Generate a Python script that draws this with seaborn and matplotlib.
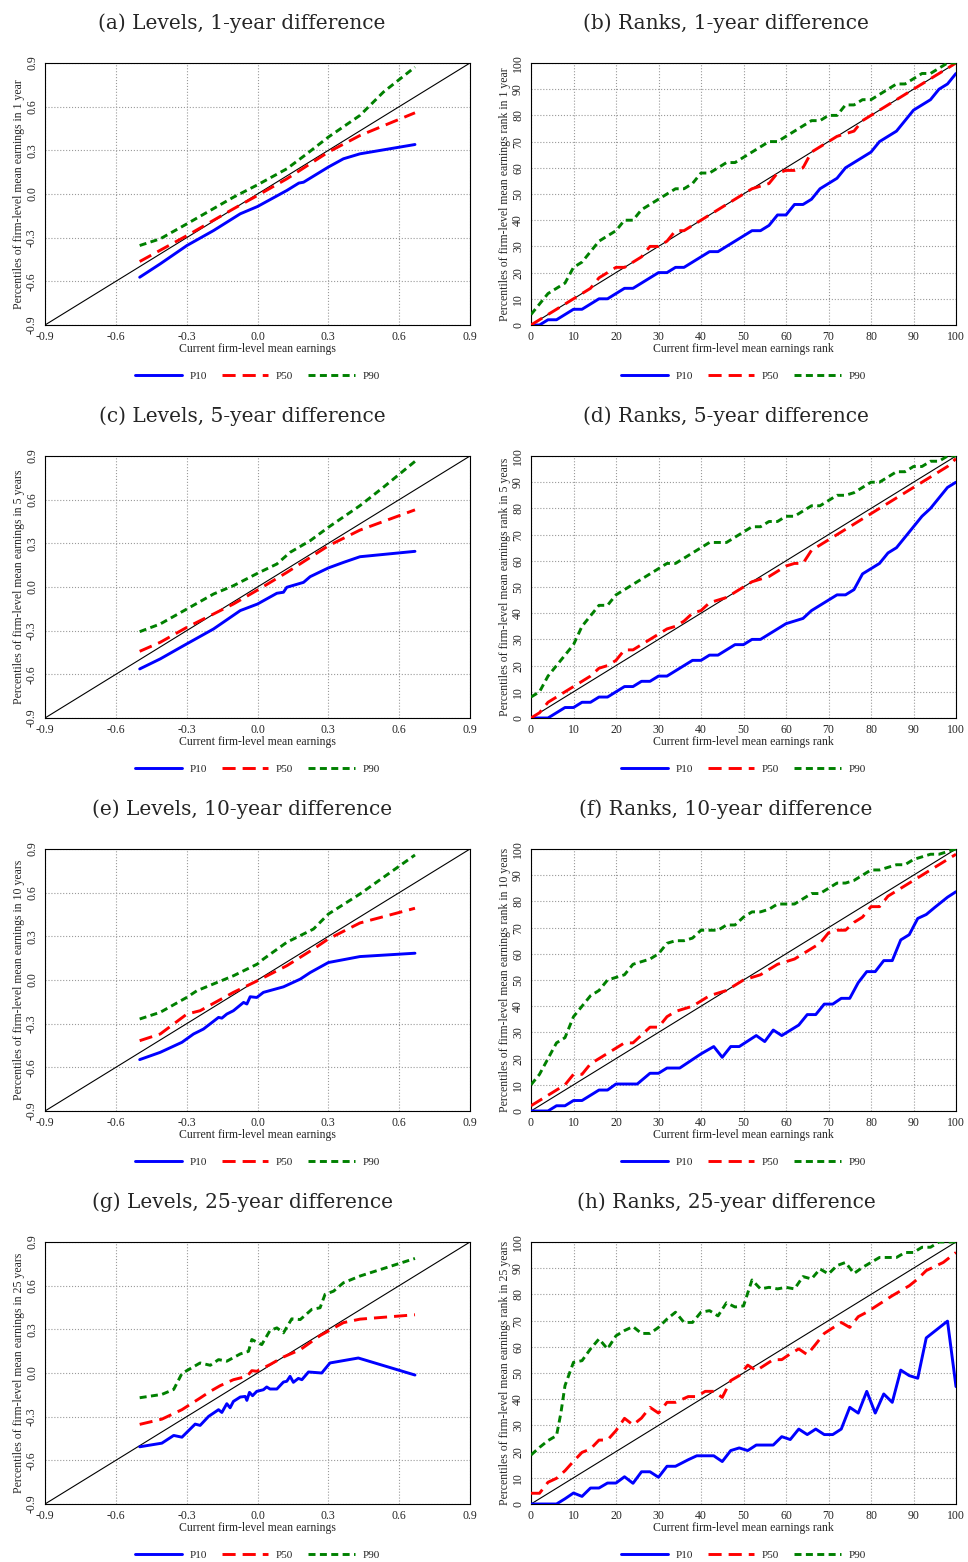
import pandas as pd
import matplotlib
matplotlib.use('Agg')
import matplotlib.pyplot as plt
from matplotlib.lines import Line2D
import seaborn as sns

# ---- data ----
level_ticks = [-0.9, -0.6, -0.3, 0.0, 0.3, 0.6, 0.9]
rank_ticks = [0, 10, 20, 30, 40, 50, 60, 70, 80, 90, 100]
rank_x = list(range(0, 101, 2))

# (a) levels, 1 year
a_p10_x = [-0.499, -0.412, -0.299, -0.186, -0.073, 0.0, 0.124, 0.175, 0.195, 0.300, 0.364, 0.434, 0.667]
a_p10_y = [-0.572, -0.480, -0.354, -0.251, -0.136, -0.086, 0.024, 0.075, 0.081, 0.185, 0.242, 0.276, 0.340]
a_p50_x = [-0.499, -0.299, -0.102, 0.0, 0.124, 0.300, 0.434, 0.667]
a_p50_y = [-0.464, -0.286, -0.102, -0.010, 0.104, 0.288, 0.402, 0.558]
a_p90_x = [-0.499, -0.412, -0.299, -0.102, 0.0, 0.124, 0.209, 0.300, 0.434, 0.533, 0.667]
a_p90_y = [-0.354, -0.308, -0.205, -0.022, 0.063, 0.173, 0.276, 0.391, 0.540, 0.700, 0.872]

# (c) levels, 5 years
c_p10_x = [-0.499, -0.412, -0.313, -0.186, -0.073, 0.0, 0.082, 0.110, 0.124, 0.195, 0.223, 0.300, 0.364, 0.434, 0.667]
c_p10_y = [-0.563, -0.494, -0.403, -0.288, -0.162, -0.117, -0.043, -0.036, -0.002, 0.032, 0.071, 0.131, 0.169, 0.208, 0.245]
c_p50_x = [-0.499, -0.412, -0.299, -0.102, 0.0, 0.124, 0.300, 0.434, 0.667]
c_p50_y = [-0.442, -0.380, -0.277, -0.117, -0.021, 0.100, 0.283, 0.391, 0.530]
c_p90_x = [-0.499, -0.412, -0.299, -0.186, -0.102, 0.0, 0.082, 0.138, 0.223, 0.300, 0.434, 0.533, 0.667]
c_p90_y = [-0.307, -0.254, -0.151, -0.048, 0.009, 0.094, 0.158, 0.238, 0.318, 0.410, 0.559, 0.685, 0.863]

# (e) levels, 10 years
e_p10_x = [-0.499, -0.412, -0.320, -0.271, -0.229, -0.165, -0.151, -0.130, -0.102, -0.059,
           -0.045, -0.031, -0.003, 0.025, 0.110, 0.181, 0.223, 0.300, 0.434, 0.667]
e_p10_y = [-0.547, -0.497, -0.428, -0.371, -0.337, -0.257, -0.262, -0.234, -0.211, -0.154,
           -0.165, -0.115, -0.120, -0.085, -0.047, 0.006, 0.051, 0.120, 0.161, 0.184]
e_p50_x = [-0.499, -0.412, -0.299, -0.243, -0.102, 0.0, 0.124, 0.237, 0.300, 0.434, 0.667]
e_p50_y = [-0.417, -0.371, -0.234, -0.211, -0.085, -0.005, 0.098, 0.213, 0.282, 0.392, 0.493]
e_p90_x = [-0.499, -0.412, -0.299, -0.257, -0.102, 0.0, 0.025, 0.124, 0.237, 0.300, 0.434, 0.667]
e_p90_y = [-0.268, -0.222, -0.119, -0.074, 0.029, 0.110, 0.144, 0.259, 0.350, 0.453, 0.591, 0.859]

# (g) levels, 25 years
g_p10_x = [-0.499, -0.405, -0.355, -0.320, -0.264, -0.243, -0.207, -0.165, -0.151, -0.130,
           -0.116, -0.102, -0.073, -0.052, -0.045, -0.034, -0.021, -0.003, 0.025, 0.039,
           0.053, 0.082, 0.110, 0.124, 0.138, 0.152, 0.173, 0.188, 0.216, 0.272,
           0.307, 0.427, 0.667]
g_p10_y = [-0.507, -0.482, -0.429, -0.441, -0.351, -0.360, -0.298, -0.252, -0.271, -0.211,
           -0.239, -0.195, -0.165, -0.161, -0.188, -0.133, -0.156, -0.126, -0.115, -0.096,
           -0.110, -0.110, -0.062, -0.057, -0.023, -0.064, -0.037, -0.046, 0.007, 0.000,
           0.069, 0.103, -0.014]
g_p50_x = [-0.499, -0.405, -0.320, -0.243, -0.200, -0.158, -0.102, -0.045, -0.024, -0.003,
           0.053, 0.110, 0.181, 0.265, 0.364, 0.434, 0.667]
g_p50_y = [-0.353, -0.317, -0.252, -0.172, -0.126, -0.087, -0.046, -0.023, 0.016, 0.012,
           0.058, 0.110, 0.160, 0.257, 0.346, 0.370, 0.400]
g_p90_x = [-0.499, -0.405, -0.355, -0.320, -0.243, -0.200, -0.165, -0.130, -0.073, -0.038,
           -0.024, 0.018, 0.053, 0.082, 0.110, 0.145, 0.181, 0.230, 0.265, 0.286,
           0.322, 0.364, 0.434, 0.667]
g_p90_y = [-0.170, -0.147, -0.113, -0.003, 0.069, 0.053, 0.092, 0.081, 0.131, 0.149,
           0.230, 0.195, 0.292, 0.310, 0.276, 0.372, 0.367, 0.437, 0.448, 0.540,
           0.562, 0.620, 0.666, 0.787]

# (b) ranks, 1 year  (x = rank_x)
b_p10 = [0, 0, 2, 2, 4, 6, 6, 8, 10, 10, 12, 14, 14, 16, 18, 20, 20, 22, 22, 24,
         26, 28, 28, 30, 32, 34, 36, 36, 38, 42, 42, 46, 46, 48, 52, 54, 56, 60, 62, 64,
         66, 70, 72, 74, 78, 82, 84, 86, 90, 92, 96]
b_p50 = [0, 2, 4, 6, 8, 10, 12, 14, 18, 20, 22, 22, 24, 26, 30, 30, 32, 36, 36, 38,
         40, 42, 44, 46, 48, 50, 52, 53, 54, 58, 59, 59, 60, 66, 68, 70, 72, 73, 74, 78,
         80, 82, 84, 86, 88, 90, 92, 94, 96, 98, 100]
b_p90 = [4, 8, 12, 14, 16, 22, 24, 28, 32, 34, 36, 40, 40, 44, 46, 48, 50, 52, 52, 54,
         58, 58, 60, 62, 62, 64, 66, 68, 70, 70, 72, 74, 76, 78, 78, 80, 80, 84, 84, 86,
         86, 88, 90, 92, 92, 94, 96, 96, 98, 100, 100]

# (d) ranks, 5 years  (x = rank_x)
d_p10 = [0, 0, 0, 2, 4, 4, 6, 6, 8, 8, 10, 12, 12, 14, 14, 16, 16, 18, 20, 22,
         22, 24, 24, 26, 28, 28, 30, 30, 32, 34, 36, 37, 38, 41, 43, 45, 47, 47, 49, 55,
         57, 59, 63, 65, 69, 73, 77, 80, 84, 88, 90]
d_p50 = [0, 2, 6, 8, 10, 12, 14, 16, 19, 20, 22, 26, 26, 28, 30, 32, 34, 35, 37, 40,
         41, 44, 45, 46, 48, 50, 52, 53, 54, 56, 58, 59, 59, 64, 66, 68, 70, 72, 74, 76,
         78, 80, 82, 84, 86, 88, 90, 92, 94, 96, 99]
d_p90 = [8, 10, 16, 20, 24, 28, 35, 39, 43, 43, 47, 49, 51, 53, 55, 57, 59, 59, 61, 63,
         65, 67, 67, 67, 69, 71, 73, 73, 75, 75, 77, 77, 79, 81, 81, 83, 85, 85, 86, 88,
         90, 90, 92, 94, 94, 96, 96, 98, 98, 100, 100]

# (f) ranks, 10 years
f_p10_x = [0, 2, 4, 6, 8, 10, 12, 14, 16, 18, 20, 25, 28, 30, 32, 35, 40, 43, 45, 47,
           49, 53, 55, 57, 59, 63, 65, 67, 69, 71, 73, 75, 77, 79, 81, 83, 85, 87, 89, 91,
           93, 95, 98, 100]
f_p10_y = [0, 0, 0, 2, 2, 4, 4, 6, 8, 8, 10.3, 10.3, 14.4, 14.4, 16.4, 16.4, 21.8, 24.6, 20.5, 24.6,
           24.6, 28.8, 26.5, 30.9, 28.8, 32.8, 36.8, 36.8, 40.8, 40.8, 43, 43, 49, 53.2, 53.2, 57.4, 57.4, 65.3, 67.3, 73.5,
           75, 77.7, 81.6, 83.7]
f_p50 = [2, 4, 6, 8, 10, 14, 14, 18, 20, 22, 24, 26, 26, 29, 32, 32, 36, 38, 39, 40,
         42, 44, 45, 46, 48, 50, 51, 52, 54, 56, 57, 58, 60, 62, 64, 68, 69, 69, 72, 74,
         78, 78, 82, 84, 86, 88, 90, 92, 94, 96, 98]
f_p90 = [10, 14, 20, 26, 28, 36, 40, 44, 46, 50, 51, 52, 56, 57, 58, 60, 64, 65, 65, 66,
         69, 69, 69, 71, 71, 74, 76, 76, 77, 79, 79, 79, 81, 83, 83, 85, 87, 87, 88, 90,
         92, 92, 93, 94, 94, 96, 97, 98, 98, 99, 100]

# (h) ranks, 25 years
h_p10_x = [0, 6, 8, 10, 12, 14, 16, 18, 20, 22, 24, 26, 28, 30, 32, 34, 37, 39, 43, 45,
           47, 49, 51, 53, 57, 59, 61, 63, 65, 67, 69, 71, 73, 75, 77, 79, 81, 83, 85, 87,
           89, 91, 93, 98, 100]
h_p10_y = [0, 0, 2, 4.2, 2.9, 6.1, 6.1, 8, 8, 10.4, 7.9, 12.3, 12.3, 10.2, 14.4, 14.4, 16.9, 18.4, 18.4, 16.2,
           20.4, 21.4, 20.4, 22.5, 22.5, 25.7, 24.6, 28.6, 26.5, 28.6, 26.5, 26.5, 28.6, 36.9, 34.7, 43, 34.7, 42, 38.8, 51.1,
           49, 48, 63.4, 69.8, 44.8]
h_p50_x = [0, 2, 4, 6, 8, 10, 12, 14, 16, 18, 20, 22, 24, 26, 28, 30, 32, 34, 37, 39,
           41, 43, 45, 47, 49, 51, 53, 55, 57, 59, 61, 63, 65, 67, 69, 71, 73, 75, 77, 79,
           81, 83, 85, 87, 89, 91, 93, 97, 100]
h_p50_y = [4.1, 4.1, 8.3, 9.8, 12.7, 16.3, 19.7, 21, 24.4, 24.4, 28, 32.7, 30.2, 32.8, 36.9, 34.7, 38.8, 38.8, 41, 41,
           43, 43, 40.7, 47.1, 49, 53, 50.9, 53, 55.1, 55.1, 57.3, 59.2, 57, 61, 65.1, 67.2, 69.3, 67.4, 71.5, 73.2,
           75.3, 77.4, 79.5, 81.4, 83.3, 85.9, 89.1, 92.2, 96]
h_p90_x = [0, 2, 4, 6, 7, 8, 10, 12, 14, 16, 18, 20, 22, 24, 26, 28, 30, 32, 34, 36,
           38, 40, 42, 44, 46, 48, 50, 52, 54, 56, 58, 60, 62, 64, 66, 68, 70, 72, 74, 76,
           78, 80, 82, 84, 86, 88, 90, 92, 94, 96, 100]
h_p90_y = [18.7, 21.6, 24.2, 26.1, 34.4, 45.2, 54.1, 54.7, 59.2, 63, 59.2, 64.2, 66.2, 67.7, 65.1, 65.1, 67.4, 70.6, 73.2, 69.3,
           69.3, 73.2, 73.8, 71.8, 76.8, 75.2, 75.6, 85.5, 82.1, 82.7, 82.1, 82.7, 82.1, 86.8, 85.9, 89.7, 87.8, 91, 92.2, 88,
           90.3, 92.2, 94.1, 94.1, 94.1, 96, 96, 98, 98, 100, 100]

titles = ['(a) Levels, 1-year difference', '(b) Ranks, 1-year difference',
          '(c) Levels, 5-year difference', '(d) Ranks, 5-year difference',
          '(e) Levels, 10-year difference', '(f) Ranks, 10-year difference',
          '(g) Levels, 25-year difference', '(h) Ranks, 25-year difference']
horizons = ['1 year', '5 years', '10 years', '25 years']

panels = [
    {'P10': (a_p10_x, a_p10_y), 'P50': (a_p50_x, a_p50_y), 'P90': (a_p90_x, a_p90_y)},
    {'P10': (rank_x, b_p10), 'P50': (rank_x, b_p50), 'P90': (rank_x, b_p90)},
    {'P10': (c_p10_x, c_p10_y), 'P50': (c_p50_x, c_p50_y), 'P90': (c_p90_x, c_p90_y)},
    {'P10': (rank_x, d_p10), 'P50': (rank_x, d_p50), 'P90': (rank_x, d_p90)},
    {'P10': (e_p10_x, e_p10_y), 'P50': (e_p50_x, e_p50_y), 'P90': (e_p90_x, e_p90_y)},
    {'P10': (f_p10_x, f_p10_y), 'P50': (rank_x, f_p50), 'P90': (rank_x, f_p90)},
    {'P10': (g_p10_x, g_p10_y), 'P50': (g_p50_x, g_p50_y), 'P90': (g_p90_x, g_p90_y)},
    {'P10': (h_p10_x, h_p10_y), 'P50': (h_p50_x, h_p50_y), 'P90': (h_p90_x, h_p90_y)},
]

# ---- style ----
sns.set_style('white')
plt.rcParams['font.family'] = ['Liberation Serif', 'DejaVu Serif']
plt.rcParams['axes.unicode_minus'] = False

colors = {'P10': '#0000ff', 'P50': '#ff0000', 'P90': '#008000'}
dashes = {'P10': '', 'P50': (4.5, 2.4), 'P90': (2.4, 1.5)}
LW = 2.1
W, H = 968, 1562

fig = plt.figure(figsize=(W / 100, H / 100), dpi=100)

col_left = [45, 531]
col_width = 425
row_top = [63, 456, 849, 1242]
ax_h = 262

for i, series in enumerate(panels):
    row, col = divmod(i, 2)
    left = col_left[col] / W
    bottom = 1 - (row_top[row] + ax_h) / H
    ax = fig.add_axes([left, bottom, col_width / W, ax_h / H])

    df = pd.concat([pd.DataFrame({'x': xs, 'y': ys, 'pct': name})
                    for name, (xs, ys) in series.items()], ignore_index=True)

    if col == 0:
        ticks = level_ticks
        labels = ['%.1f' % t for t in ticks]
        xlab = 'Current firm-level mean earnings'
        ylab = 'Percentiles of firm-level mean earnings in ' + horizons[row]
    else:
        ticks = rank_ticks
        labels = [str(t) for t in ticks]
        xlab = 'Current firm-level mean earnings rank'
        ylab = 'Percentiles of firm-level mean earnings rank in ' + horizons[row]
    lo, hi = ticks[0], ticks[-1]

    ax.axline((lo, lo), slope=1, color='black', lw=0.8, zorder=2)
    sns.lineplot(data=df, x='x', y='y', hue='pct', style='pct', palette=colors,
                 dashes=dashes, estimator=None, sort=False, linewidth=LW,
                 legend=False, ax=ax, zorder=3)

    ax.set_xlim(lo, hi)
    ax.set_ylim(lo, hi)
    ax.set_xticks(ticks)
    ax.set_xticklabels(labels)
    ax.set_yticks(ticks)
    ax.set_yticklabels(labels, rotation=90, va='center')
    ax.tick_params(axis='x', length=0, pad=4, labelsize=8.5)
    ax.tick_params(axis='y', length=0, pad=5, labelsize=8.5)
    ax.set_axisbelow(True)
    ax.grid(True, ls=':', color='#9a9a9a', lw=0.8)
    for s in ax.spines.values():
        s.set_color('black')
        s.set_linewidth(0.8)
    ax.set_xlabel(xlab, fontsize=8.5, labelpad=0)
    ax.set_ylabel(ylab, fontsize=8.5, labelpad=1)

    handles = [Line2D([], [], color=colors[k], lw=LW,
                      dashes=dashes[k] if dashes[k] else (None, None), label=k)
               for k in ['P10', 'P50', 'P90']]
    ax.legend(handles=handles, loc='center', bbox_to_anchor=(0.5, -51 / ax_h),
              ncol=3, frameon=False, fontsize=8, handlelength=4.2,
              handletextpad=0.7, columnspacing=1.3)

    fig.text(0.25 + 0.5 * col, 1 - (row_top[row] - 40) / H, titles[i],
             ha='center', va='center', fontsize=14.5, family='DejaVu Serif')

fig.savefig('out.png', dpi=100)
